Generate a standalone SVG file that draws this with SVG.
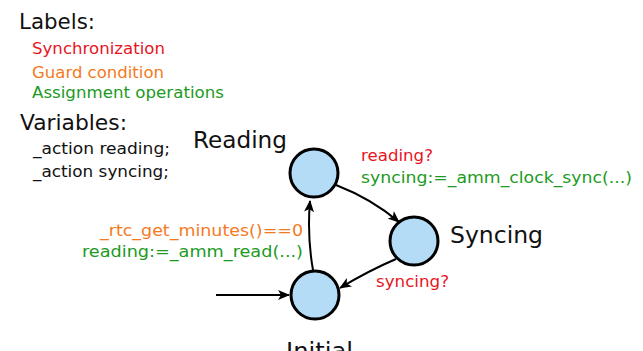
<svg xmlns="http://www.w3.org/2000/svg" width="643" height="351" viewBox="0 0 643 351">
  <defs>
    <marker id="arrow" viewBox="0 0 12 10" refX="11" refY="5" markerWidth="12" markerHeight="10" markerUnits="userSpaceOnUse" orient="auto">
      <path d="M0,0 L12,5 L0,10 L3,5 Z" fill="#000"/>
    </marker>
    <style>
      text { font-family: "DejaVu Sans", Verdana, sans-serif; }
      .title { font-size: 21.5px; fill: #111; }
      .legend { font-size: 15.5px; }
      .var { font-size: 15.5px; fill: #111; }
      .name { font-size: 23px; fill: #111; }
      .lbl { font-size: 16px; }
      .sync { fill: #e8141e; }
      .guard { fill: #f47a22; }
      .assign { fill: #1c9a22; }
      .state { fill: #b5dcf7; stroke: #000; stroke-width: 3; }
      .edge { fill: none; stroke: #000; stroke-width: 2; marker-end: url(#arrow); }
    </style>
  </defs>
  <rect width="643" height="351" fill="#fff"/>

  <!-- legend -->
  <text class="title" x="19" y="29" textLength="76" lengthAdjust="spacingAndGlyphs">Labels:</text>
  <text class="legend sync" x="32" y="54" textLength="133" lengthAdjust="spacingAndGlyphs">Synchronization</text>
  <text class="legend guard" x="32" y="78" textLength="132" lengthAdjust="spacingAndGlyphs">Guard condition</text>
  <text class="legend assign" x="32" y="98" textLength="192" lengthAdjust="spacingAndGlyphs">Assignment operations</text>
  <text class="title" x="20" y="130" textLength="107" lengthAdjust="spacingAndGlyphs">Variables:</text>
  <text class="var" x="33" y="154" textLength="137" lengthAdjust="spacingAndGlyphs">_action reading;</text>
  <text class="var" x="33" y="177" textLength="136" lengthAdjust="spacingAndGlyphs">_action syncing;</text>

  <!-- transitions -->
  <g id="connectors">
    <path class="edge" d="M336,185 Q372,199 399,222"/>
    <path class="edge" d="M396,259 Q368,271 340,288"/>
    <path class="edge" d="M313,270 Q307,236 310,201"/>
    <path class="edge" d="M216,295 L289,295"/>
  </g>

  <!-- edge labels -->
  <text class="lbl sync" x="361" y="161" textLength="72" lengthAdjust="spacingAndGlyphs">reading?</text>
  <text class="lbl assign" x="361" y="183" textLength="271" lengthAdjust="spacingAndGlyphs">syncing:=_amm_clock_sync(...)</text>
  <text class="lbl sync" x="376" y="287" textLength="73" lengthAdjust="spacingAndGlyphs">syncing?</text>
  <text class="lbl guard" x="100" y="236" textLength="203" lengthAdjust="spacingAndGlyphs">_rtc_get_minutes()==0</text>
  <text class="lbl assign" x="82" y="257" textLength="221" lengthAdjust="spacingAndGlyphs">reading:=_amm_read(...)</text>

  <!-- states -->
  <g id="reading">
    <circle class="state" cx="314" cy="173" r="24"/>
    <text class="name" x="193" y="148" textLength="94" lengthAdjust="spacingAndGlyphs">Reading</text>
  </g>
  <g id="syncing">
    <circle class="state" cx="414" cy="241" r="24"/>
    <text class="name" x="450" y="243" textLength="93" lengthAdjust="spacingAndGlyphs">Syncing</text>
  </g>
  <g id="initial">
    <circle class="state" cx="315" cy="295" r="24"/>
    <text class="name" x="286" y="359" textLength="67" lengthAdjust="spacingAndGlyphs">Initial</text>
  </g>
</svg>
